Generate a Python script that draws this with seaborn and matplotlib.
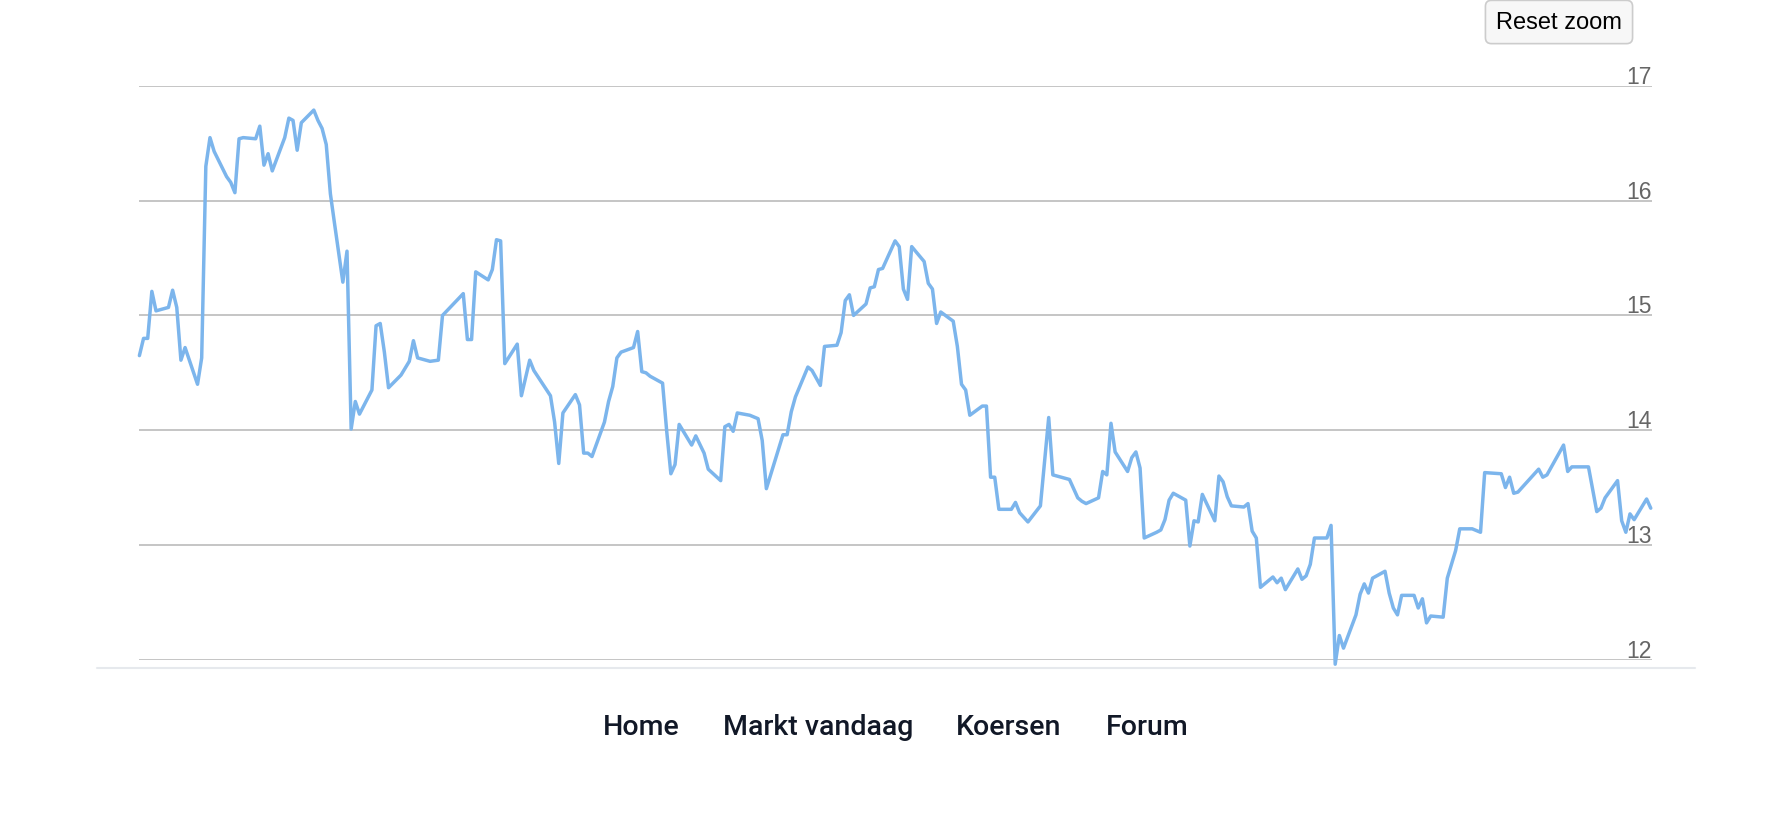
import numpy as np
import pandas as pd
import matplotlib
matplotlib.use("Agg")
import matplotlib.pyplot as plt
import matplotlib.transforms as mtransforms
from matplotlib.lines import Line2D
import seaborn as sns

# =======================
# 数据
# =======================
days = [0, 1, 2, 3, 4, 7, 8, 9, 10, 11, 14, 15, 16, 17, 18, 21, 22, 23, 24, 25,
        28, 29, 30, 31, 32, 35, 36, 37, 38, 39, 42, 43, 44, 45, 46, 47, 49, 50, 51, 52,
        53, 56, 57, 58, 59, 60, 63, 64, 65, 66, 67, 70, 72, 73, 78, 79, 80, 81, 84, 85,
        86, 87, 88, 91, 92, 94, 95, 99, 100, 101, 102, 105, 106, 107, 108, 109, 112, 113, 114, 115,
        116, 119, 120, 121, 122, 123, 126, 127, 128, 129, 130, 133, 134, 136, 137, 140, 141, 142, 143, 144,
        147, 149, 150, 151, 155, 156, 157, 158, 161, 162, 164, 165, 168, 169, 170, 171, 172, 175, 176, 177,
        178, 179, 182, 183, 184, 185, 186, 189, 190, 191, 192, 193, 196, 197, 198, 199, 200, 203, 204, 205,
        206, 207, 210, 211, 212, 214, 217, 219, 220, 224, 226, 227, 228, 231, 232, 233, 234, 235, 238, 239,
        240, 241, 242, 245, 246, 247, 248, 249, 252, 253, 254, 255, 256, 259, 260, 261, 262, 263, 266, 267,
        268, 269, 270, 273, 274, 275, 276, 279, 280, 281, 282, 283, 286, 287, 288, 289, 290, 293, 294, 295,
        296, 297, 300, 301, 302, 303, 304, 307, 308, 309, 310, 311, 314, 315, 317, 318, 321, 323, 324, 328,
        329, 330, 331, 332, 337, 338, 339, 343, 344, 345, 349, 351, 352, 353, 356, 357, 358, 359, 360, 363,
        364]

prices = [14.65, 14.80, 14.80, 15.21, 15.04, 15.07, 15.22, 15.07, 14.61, 14.72, 14.40, 14.63, 16.30, 16.55, 16.43, 16.21, 16.16, 16.07, 16.54, 16.55,
          16.54, 16.65, 16.31, 16.41, 16.26, 16.55, 16.72, 16.70, 16.44, 16.68, 16.79, 16.70, 16.63, 16.49, 16.06, 15.80, 15.29, 15.56, 14.01, 14.25,
          14.14, 14.35, 14.91, 14.93, 14.68, 14.37, 14.48, 14.54, 14.60, 14.78, 14.63, 14.60, 14.61, 15.00, 15.19, 14.79, 14.79, 15.38, 15.31, 15.40,
          15.66, 15.65, 14.58, 14.75, 14.30, 14.61, 14.52, 14.30, 14.07, 13.71, 14.15, 14.31, 14.22, 13.80, 13.80, 13.77, 14.07, 14.25, 14.38, 14.63,
          14.68, 14.72, 14.86, 14.51, 14.50, 14.47, 14.41, 13.99, 13.62, 13.70, 14.05, 13.87, 13.95, 13.80, 13.66, 13.56, 14.03, 14.05, 13.99, 14.15,
          14.13, 14.10, 13.91, 13.49, 13.96, 13.96, 14.16, 14.29, 14.55, 14.52, 14.39, 14.73, 14.74, 14.85, 15.13, 15.18, 15.00, 15.10, 15.24, 15.25,
          15.40, 15.41, 15.65, 15.60, 15.23, 15.14, 15.60, 15.47, 15.28, 15.23, 14.93, 15.03, 14.95, 14.73, 14.40, 14.35, 14.13, 14.21, 14.21, 13.59,
          13.59, 13.31, 13.31, 13.37, 13.28, 13.20, 13.34, 14.11, 13.61, 13.57, 13.41, 13.38, 13.36, 13.41, 13.64, 13.61, 14.06, 13.81, 13.64, 13.76,
          13.81, 13.67, 13.06, 13.11, 13.13, 13.22, 13.39, 13.45, 13.39, 12.99, 13.21, 13.20, 13.44, 13.21, 13.60, 13.55, 13.42, 13.34, 13.33, 13.36,
          13.12, 13.06, 12.63, 12.72, 12.67, 12.71, 12.61, 12.79, 12.70, 12.73, 12.83, 13.06, 13.06, 13.17, 11.96, 12.21, 12.10, 12.39, 12.57, 12.66,
          12.58, 12.71, 12.77, 12.58, 12.45, 12.39, 12.56, 12.56, 12.45, 12.53, 12.32, 12.38, 12.37, 12.71, 12.95, 13.14, 13.14, 13.11, 13.63, 13.62,
          13.50, 13.59, 13.45, 13.46, 13.66, 13.59, 13.61, 13.87, 13.64, 13.68, 13.68, 13.29, 13.32, 13.41, 13.56, 13.21, 13.11, 13.27, 13.22, 13.40,
          13.32]

y_ticks = [12, 13, 14, 15, 16, 17]
nav_items = ["Home", "Markt vandaag", "Koersen", "Forum"]
nav_x = [641, 818, 1009, 1147]  # 像素中心位置

# =======================
# 基础样式
# =======================
sns.set_style("white")
plt.rcParams.update({
    'font.family': ['Liberation Sans', 'DejaVu Sans'],
    'axes.unicode_minus': False,
})

W, H = 1792, 828
fig = plt.figure(figsize=(W / 100, H / 100), dpi=100)
ax = fig.add_axes([139.4 / W, 1 - 660.6 / H, (1652 - 139.4) / W, (660.6 - 87) / H])

df = pd.DataFrame({'day': days, 'price': prices})
sns.lineplot(data=df, x='day', y='price', ax=ax, color='#7cb5ec',
             linewidth=2.5, estimator=None, clip_on=False)

ax.set_xlim(0, 364.3)
ax.set_ylim(12, 17)
ax.set_yticks(y_ticks)
ax.set_xticks([])
ax.set_xlabel('')
ax.set_ylabel('')
ax.yaxis.grid(True, color='#b5b5b5', linewidth=1.1)
ax.set_axisbelow(True)
for s in ax.spines.values():
    s.set_visible(False)

# y 轴标签放在右侧、网格线上方
ax.yaxis.tick_right()
ax.tick_params(axis='y', length=0, pad=0, labelsize=16.5, labelcolor='#666666')
up = mtransforms.ScaledTranslation(0, 3 / 100, fig.dpi_scale_trans)
for lbl in ax.get_yticklabels():
    lbl.set_ha('right')
    lbl.set_va('baseline')
    lbl.set_transform(lbl.get_transform() + up)

# 底部分隔线
fig.add_artist(Line2D([97 / W, 1695 / W], [1 - 669 / H] * 2, color='#e6e9ed', linewidth=1.5))

# "Reset zoom" 按钮
fig.text(1559 / W, 1 - 23 / H, "Reset zoom", ha='center', va='center', fontsize=17, color='black',
         bbox=dict(boxstyle='round,pad=0.45,rounding_size=0.25', fc='#f7f7f7', ec='#cccccc', lw=1.2))

# 导航菜单
for label, xpix in zip(nav_items, nav_x):
    fig.text(xpix / W, 1 - 728 / H, label, ha='center', va='center', fontsize=20.5,
             fontweight='medium', family=['Roboto', 'DejaVu Sans'], color='#111827')

fig.savefig("out.png", dpi=100)
plt.close(fig)
